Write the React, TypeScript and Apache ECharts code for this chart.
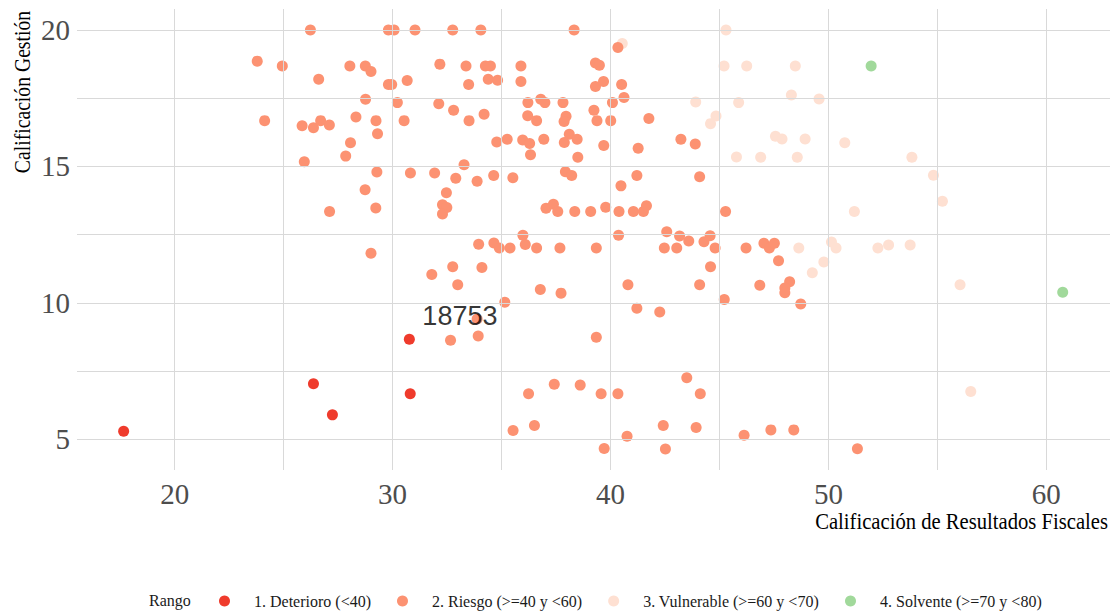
import React, { useEffect, useRef } from "react";
import * as echarts from "echarts";

const seriesNames = [
  "1. Deterioro (<40)",
  "2. Riesgo (>=40 y <60)",
  "3. Vulnerable (>=60 y <70)",
  "4. Solvente (>=70 y <80)",
];
const seriesColors = ["#EF3B2C", "#FC9272", "#FEE0D2", "#A1D99B"];

const deterioro: number[][] = [
  [17.66, 5.3], [26.37, 7.04], [27.24, 5.9], [30.77, 8.67], [30.81, 6.67],
];

const solvente: number[][] = [
  [51.96, 18.68], [60.75, 10.39],
];

const vulnerable: number[][] = [
  [40.54, 19.51], [45.3, 20.0], [45.21, 18.68], [46.25, 18.68], [48.48, 18.68],
  [43.91, 17.36], [45.88, 17.34], [44.84, 16.85], [44.59, 16.57], [45.78, 15.35],
  [48.3, 17.62], [49.57, 17.47], [47.57, 16.11], [47.87, 16.01], [48.93, 16.01],
  [50.75, 15.87], [46.89, 15.34], [48.57, 15.34], [53.83, 15.34], [54.82, 14.68],
  [55.23, 13.73], [51.19, 13.35], [48.64, 12.01], [50.14, 12.23], [50.35, 12.01],
  [49.79, 11.5], [49.26, 11.11], [52.27, 12.01], [52.76, 12.12], [53.75, 12.12],
  [56.04, 10.67], [56.53, 6.76],
];

const riesgo: number[][] = [
  [26.23, 20.0], [23.79, 18.86], [24.94, 18.68], [26.61, 18.2], [28.04, 18.68],
  [28.75, 18.68], [29.01, 18.48], [28.76, 17.46], [24.13, 16.68], [25.85, 16.49],
  [26.37, 16.42], [26.7, 16.68], [27.1, 16.52], [28.32, 16.81], [29.24, 16.68],
  [29.31, 16.2], [28.07, 15.87], [27.85, 15.38], [25.95, 15.17], [29.28, 14.8],
  [28.74, 14.15], [27.11, 13.35], [29.23, 13.48], [29.01, 11.82],
  [29.81, 20.0], [30.07, 20.0], [31.03, 20.0], [32.76, 20.0], [34.05, 20.0],
  [38.33, 20.0], [40.34, 19.36], [32.17, 18.75], [33.37, 18.68], [34.26, 18.68],
  [34.49, 18.68], [35.89, 18.68], [39.31, 18.79], [39.49, 18.71], [29.81, 18.0],
  [29.96, 18.0], [30.67, 18.15], [33.49, 18.0], [34.39, 18.2], [34.82, 18.16],
  [35.89, 18.11], [39.31, 17.93], [39.68, 18.11], [40.51, 18.0], [40.62, 17.53],
  [40.09, 17.34], [30.22, 17.34], [32.12, 17.3], [32.8, 17.06], [34.2, 16.91],
  [33.51, 16.68], [30.53, 16.68], [36.21, 17.34], [36.8, 17.46], [36.99, 17.34],
  [37.82, 17.34], [36.2, 16.86], [36.61, 16.68], [37.96, 16.84], [37.87, 16.65],
  [39.24, 17.06], [39.38, 16.68], [40.01, 16.68], [41.76, 16.76], [34.78, 15.9],
  [35.26, 16.0], [35.97, 15.97], [36.29, 15.84], [36.94, 16.0], [38.11, 16.18],
  [37.88, 15.88], [38.47, 16.0], [36.33, 15.43], [38.5, 15.34], [39.69, 15.77],
  [41.27, 15.67], [43.23, 16.0], [43.89, 15.82], [30.82, 14.76], [31.93, 14.76],
  [33.28, 15.06], [32.9, 14.57], [33.88, 14.46], [34.64, 14.67], [35.52, 14.59],
  [37.93, 14.81], [38.22, 14.67], [41.21, 14.67], [40.48, 14.29], [44.09, 14.62],
  [32.47, 14.04], [32.29, 13.6], [32.49, 13.5], [32.29, 13.26], [37.04, 13.47],
  [37.38, 13.62], [37.58, 13.35], [38.36, 13.35], [39.09, 13.35], [39.78, 13.51],
  [40.39, 13.35], [41.05, 13.35], [41.51, 13.35], [41.65, 13.56], [45.28, 13.35],
  [35.98, 12.48], [33.95, 12.15], [34.65, 12.2], [34.9, 12.01], [35.39, 12.01],
  [36.09, 12.14], [36.61, 12.01], [37.68, 12.01], [39.35, 12.01], [40.37, 12.48],
  [42.58, 12.61], [43.17, 12.45], [43.59, 12.27], [42.47, 12.01], [43.04, 12.01],
  [44.29, 12.24], [44.57, 12.46], [44.8, 12.01], [46.22, 12.01], [44.59, 11.33],
  [44.09, 10.67], [45.22, 10.13], [31.8, 11.04], [32.76, 11.33], [34.1, 11.3],
  [32.99, 10.67], [36.78, 10.49], [37.73, 10.36], [35.15, 10.03], [40.8, 10.67],
  [41.21, 9.81], [42.26, 9.67], [33.88, 9.41], [32.66, 8.63], [33.93, 8.79],
  [39.35, 8.74], [36.24, 6.67], [37.42, 7.02], [38.61, 6.99], [39.57, 6.67],
  [40.34, 6.67], [43.5, 7.26], [44.12, 6.67], [35.53, 5.33], [36.51, 5.51],
  [40.76, 5.12], [39.71, 4.67], [42.42, 5.51], [42.52, 4.65], [43.93, 5.44],
  [46.13, 5.15], [47.04, 12.19], [47.29, 12.01], [47.52, 12.19], [47.71, 11.55],
  [46.85, 10.65], [48.22, 10.78], [48.0, 10.55], [48.0, 10.37], [48.73, 9.96],
  [47.36, 5.35], [48.41, 5.35], [51.33, 4.66],
];

const labelPoint: number[] = [33.09, 9.52];
const labelText = "18753";

const xTickLabels = [20, 30, 40, 50, 60];
const yTickLabels = [5, 10, 15, 20];
const xGridValues = [20, 25, 30, 35, 40, 45, 50, 55, 60];
const yGridValues = [5, 7.5, 10, 12.5, 15, 17.5, 20];
const xRange = [15.52, 62.92];
const yRange = [3.88, 20.77];

const xTitle = "Calificación de Resultados Fiscales";
const yTitle = "Calificación Gestión";
const legendTitle = "Rango";

const SERIF = "'Liberation Serif', 'Times New Roman', serif";

export default function App() {
  const ref = useRef<HTMLDivElement>(null);

  useEffect(() => {
    document.body.style.margin = "0";
    const chart = echarts.init(ref.current!, null, { renderer: "svg" });
    const groups = [deterioro, riesgo, vulnerable, solvente];
    const zOrder = [4, 3, 2, 4];

    const option: any = {
      animation: false,
      backgroundColor: "#ffffff",
      grid: {
        left: 77,
        top: 9,
        width: 1033,
        height: 461,
        containLabel: false,
        outerBoundsMode: "none",
      },
      xAxis: {
        type: "value",
        min: xRange[0],
        max: xRange[1],
        axisLine: { show: false },
        axisTick: { show: false, customValues: xTickLabels },
        splitLine: { show: false },
        axisLabel: {
          customValues: xTickLabels,
          fontFamily: SERIF,
          fontSize: 29,
          color: "#4D4D4D",
          margin: 9,
        },
      },
      yAxis: {
        type: "value",
        min: yRange[0],
        max: yRange[1],
        axisLine: { show: false },
        axisTick: { show: false, customValues: yTickLabels },
        splitLine: { show: false },
        axisLabel: {
          customValues: yTickLabels,
          fontFamily: SERIF,
          fontSize: 29,
          color: "#4D4D4D",
          margin: 7,
        },
      },
      legend: {
        data: seriesNames,
        left: 214,
        top: 588,
        orient: "horizontal",
        icon: "circle",
        itemWidth: 11,
        itemHeight: 11,
        itemGap: 26,
        textStyle: {
          fontFamily: SERIF,
          fontSize: 16,
          color: "#1A1A1A",
          padding: [0, 0, 0, 19],
        },
      },
      graphic: [
        {
          type: "text",
          x: 22,
          y: 92,
          rotation: Math.PI / 2,
          scaleX: 0.82,
          style: {
            text: yTitle,
            fontFamily: SERIF,
            fontSize: 24,
            fill: "#000000",
            align: "center",
            verticalAlign: "middle",
          },
        },
        {
          type: "text",
          x: 1108,
          y: 521,
          scaleX: 0.86,
          style: {
            text: xTitle,
            fontFamily: SERIF,
            fontSize: 24,
            fill: "#000000",
            align: "right",
            verticalAlign: "middle",
          },
        },
        {
          type: "text",
          x: 149,
          y: 600,
          style: {
            text: legendTitle,
            fontFamily: SERIF,
            fontSize: 16,
            fill: "#1A1A1A",
            align: "left",
            verticalAlign: "middle",
          },
        },
      ],
      series: [
        ...groups.map((data, i) => ({
          name: seriesNames[i],
          type: "scatter",
          data,
          z: zOrder[i],
          symbol: "circle",
          symbolSize: 11,
          itemStyle: { color: seriesColors[i], opacity: 1 },
          emphasis: { disabled: true },
        })),
        {
          name: "gridlines",
          type: "scatter",
          data: [],
          z: 0,
          silent: true,
          markLine: {
            silent: true,
            symbol: ["none", "none"],
            label: { show: false },
            lineStyle: { color: "#D9D9D9", width: 1, type: "solid" },
            emphasis: { disabled: true },
            data: [
              ...xGridValues.map((v) => ({ xAxis: v })),
              ...yGridValues.map((v) => ({ yAxis: v })),
            ],
          },
        },
        {
          name: "etiqueta",
          type: "scatter",
          data: [labelPoint],
          z: 6,
          symbolSize: 0,
          silent: true,
          label: {
            show: true,
            position: "inside",
            formatter: labelText,
            fontFamily: "'Liberation Sans', Arial, sans-serif",
            fontSize: 27,
            color: "#000000",
            textBorderWidth: 0,
          },
        },
      ],
    };

    chart.setOption(option);
    return () => chart.dispose();
  }, []);

  return <div ref={ref} style={{ width: 1114, height: 611 }} />;
}
